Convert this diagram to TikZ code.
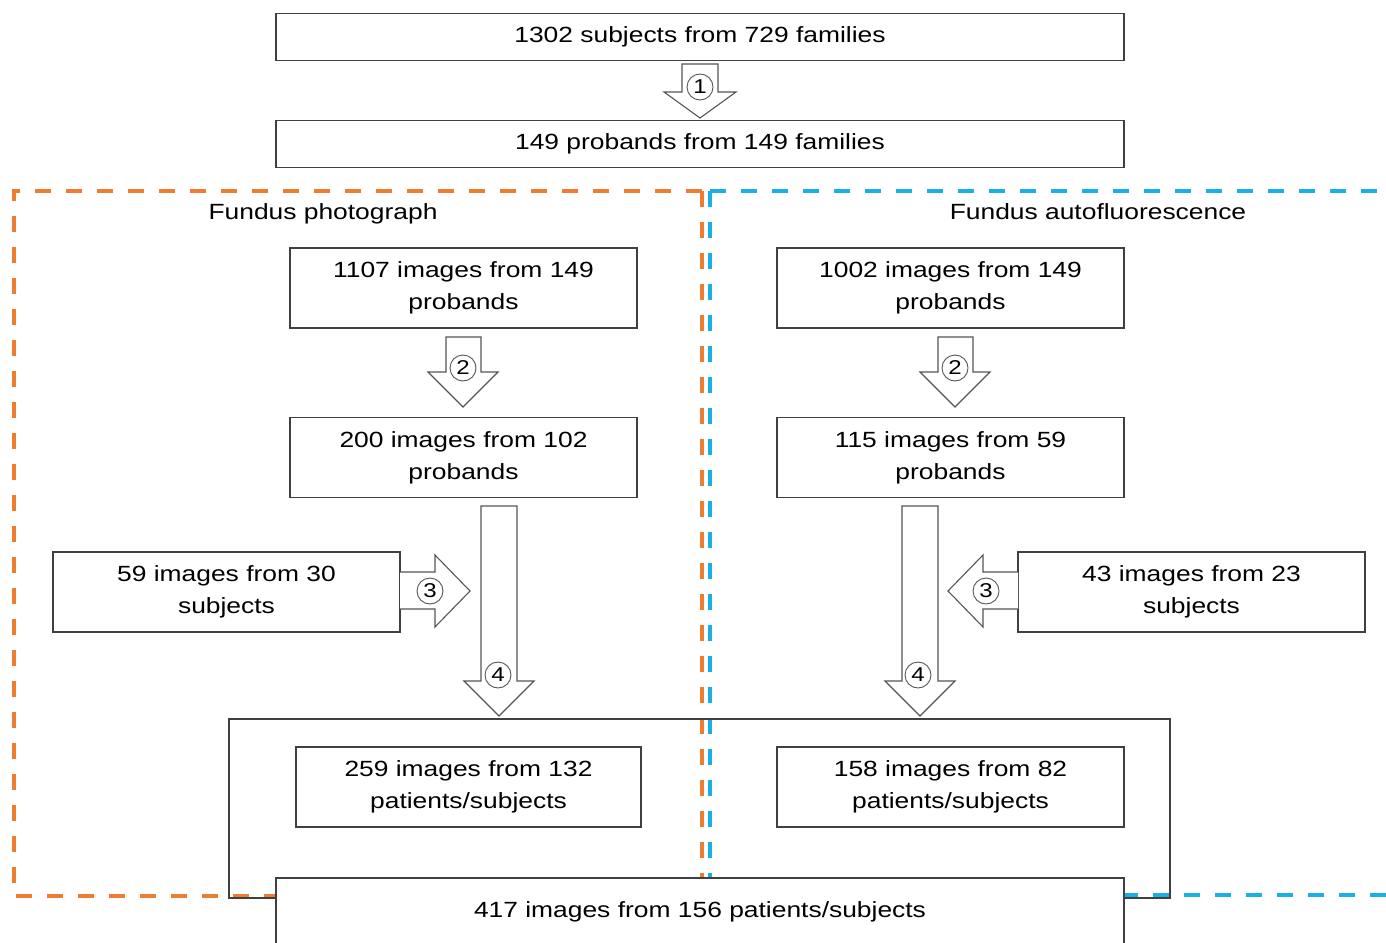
\documentclass[tikz,border=0pt]{standalone}
\usepackage{fontspec}
\setmainfont[FakeStretch=1.2]{Liberation Sans}
\definecolor{orangeD}{HTML}{ED7D31}
\definecolor{blueD}{HTML}{1AAFE6}
\definecolor{lineC}{HTML}{404040}
\definecolor{arrC}{HTML}{555555}
\begin{document}
\begin{tikzpicture}[x=1pt,y=-1pt,
  box/.style={draw=lineC,fill=white,line width=1.6pt,align=center,inner sep=0pt,
    font=\fontsize{22}{32}\selectfont},
  wide/.style={box,minimum width=848pt,minimum height=47pt},
  mid/.style={box,minimum width=347pt,minimum height=80pt},
  blockarrow/.style={draw=arrC,fill=white,line width=1.1pt,line join=miter},
  num/.style={circle,draw=arrC,line width=0.9pt,inner sep=0pt,minimum size=26pt,
    font=\fontsize{20}{20}\selectfont},
  frameO/.style={draw=orangeD,line width=3.5pt,dash pattern=on 16pt off 15pt},
  frameB/.style={draw=blueD,line width=3.5pt,dash pattern=on 16pt off 15pt},
  lab/.style={font=\fontsize{22}{28}\selectfont}]
\useasboundingbox (0,0) rectangle (1386,942);
\clip (0,0) rectangle (1386,942);
\fill[white] (0,0) rectangle (1386,942);
% dashed frames
\draw[frameB] (710,191) -- (1400,191);
\draw[frameB] (710,191) -- (710,895) -- (1400,895);
\draw[frameO] (702,191) -- (14,191) -- (14,896) -- (702,896);
\draw[frameO] (702,191) -- (702,896);
\node[lab] (lfp) at (323,214) {Fundus photograph};
\node[lab] (lfa) at (1098,212) {Fundus autofluorescence};
% big outer box
\node[draw=lineC,line width=1.6pt,minimum width=941pt,minimum height=179pt,inner sep=0pt] (big) at (699.5,808.5) {};
% boxes
\node[wide] (top) at (700,37) {1302 subjects from 729 families};
\node[wide] (pro) at (700,144) {149 probands from 149 families};
\node[mid] (fp1) at (463.5,288) {1107 images from 149\\probands};
\node[mid] (fp2) at (463.5,457.5) {200 images from 102\\probands};
\node[mid] (fp3) at (226.5,592) {59 images from 30\\subjects};
\node[mid,minimum width=345pt] (fp4) at (468.5,787) {259 images from 132\\patients/subjects};
\node[mid] (fa1) at (950.5,288) {1002 images from 149\\probands};
\node[mid] (fa2) at (950.5,457.5) {115 images from 59\\probands};
\node[mid] (fa3) at (1191.5,592) {43 images from 23\\subjects};
\node[mid] (fa4) at (950.5,787) {158 images from 82\\patients/subjects};
\node[wide,minimum height=68pt] (bot) at (700,912) {417 images from 156 patients/subjects};
% block arrows
\draw[blockarrow] (682,64) -- (718,64) -- (718,92) -- (736,92) -- (700,118) -- (664,92) -- (682,92) -- cycle;
\node[num] (n1) at (700,87) {1};
\draw[blockarrow] (446,337) -- (481,337) -- (481,372) -- (498,372) -- (463,407) -- (428,372) -- (446,372) -- cycle;
\node[num] (n2l) at (463,368) {2};
\draw[blockarrow] (938,337) -- (973,337) -- (973,372) -- (990,372) -- (955,407) -- (920,372) -- (938,372) -- cycle;
\node[num] (n2r) at (955,368) {2};
\draw[blockarrow] (481,506) -- (517,506) -- (517,681) -- (534,681) -- (499,716) -- (464,681) -- (481,681) -- cycle;
\node[num] (n4l) at (498,675) {4};
\draw[blockarrow] (902,506) -- (938,506) -- (938,681) -- (955,681) -- (920,716) -- (885,681) -- (902,681) -- cycle;
\node[num] (n4r) at (918,675) {4};
\draw[blockarrow] (400,572) -- (435,572) -- (435,555) -- (470,591) -- (435,627) -- (435,609) -- (400,609);
\node[num] (n3l) at (430,591) {3};
\draw[blockarrow] (1018,572) -- (983,572) -- (983,555) -- (948,591) -- (983,627) -- (983,609) -- (1018,609);
\node[num] (n3r) at (986,591) {3};
\end{tikzpicture}
\end{document}
